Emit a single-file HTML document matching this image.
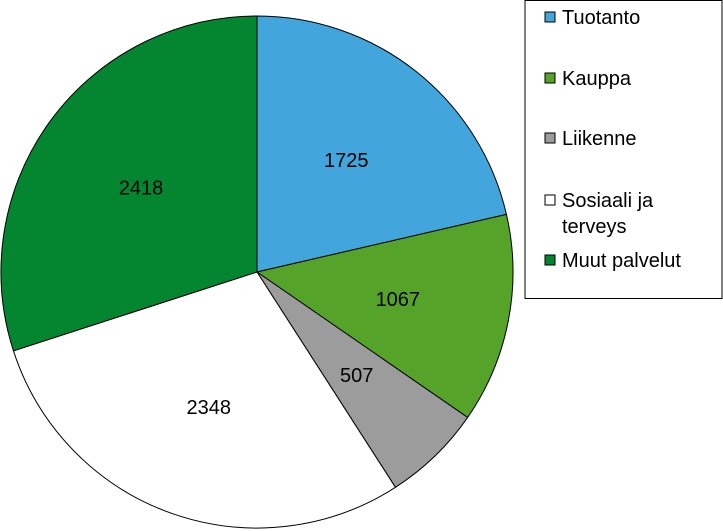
<!DOCTYPE html>
<html><head><meta charset="utf-8"><style>
body{margin:0;background:#fff;font-family:"Liberation Sans",sans-serif}
svg{display:block}
</style></head><body>
<svg id="c" width="723" height="531">
<g id="slices"></g><g id="labels"></g>
<rect x="525" y="0.5" width="197" height="298" fill="#fff" stroke="#000"/>
<g id="legend"></g>
</svg>
<script>
const categories=["Tuotanto","Kauppa","Liikenne","Sosiaali ja terveys","Muut palvelut"];
const values=[1725,1067,507,2348,2418];
const colors=["#42a5db","#56a32a","#9c9c9c","#ffffff","#03862f"];
const NS="http://www.w3.org/2000/svg";
const cx=257,cy=272,R=256;
const total=values.reduce((a,b)=>a+b,0);
const sg=document.getElementById('slices'),lg=document.getElementById('labels'),leg=document.getElementById('legend');
function pt(a,r){return [cx+r*Math.sin(a),cy-r*Math.cos(a)];}
let acc=0;
values.forEach((v,i)=>{
 const a0=acc/total*2*Math.PI;acc+=v;const a1=acc/total*2*Math.PI;
 const p0=pt(a0,R),p1=pt(a1,R);
 const p=document.createElementNS(NS,'path');
 p.setAttribute('d',`M${cx},${cy}L${p0[0]},${p0[1]}A${R},${R} 0 ${a1-a0>Math.PI?1:0} 1 ${p1[0]},${p1[1]}Z`);
 p.setAttribute('fill',colors[i]);p.setAttribute('stroke','#000');p.setAttribute('stroke-width','1');
 
 
 sg.appendChild(p);
 const lp=pt((a0+a1)/2,R*0.56);
 const t=document.createElementNS(NS,'text');
 t.setAttribute('x',lp[0]);t.setAttribute('y',lp[1]+7);t.setAttribute('text-anchor','middle');t.setAttribute('font-size','20');
 t.textContent=v;
 
 
 lg.appendChild(t);
});
const ly=[17,78,138,200,260];
categories.forEach((c,i)=>{
 const r=document.createElementNS(NS,'rect');
 r.setAttribute('x',545);r.setAttribute('y',ly[i]-5);r.setAttribute('width',10);r.setAttribute('height',10);
 r.setAttribute('fill',colors[i]);r.setAttribute('stroke','#000');
 
 
 leg.appendChild(r);
 const t=document.createElementNS(NS,'text');
 t.setAttribute('x',562);t.setAttribute('y',ly[i]+7);t.setAttribute('font-size','20');
 
 
 if(c==="Sosiaali ja terveys"){
  t.innerHTML='<tspan x="562">Sosiaali ja</tspan><tspan x="562" dy="26">terveys</tspan>';
 } else t.textContent=c;
 leg.appendChild(t);
});
</script>
</body></html>
